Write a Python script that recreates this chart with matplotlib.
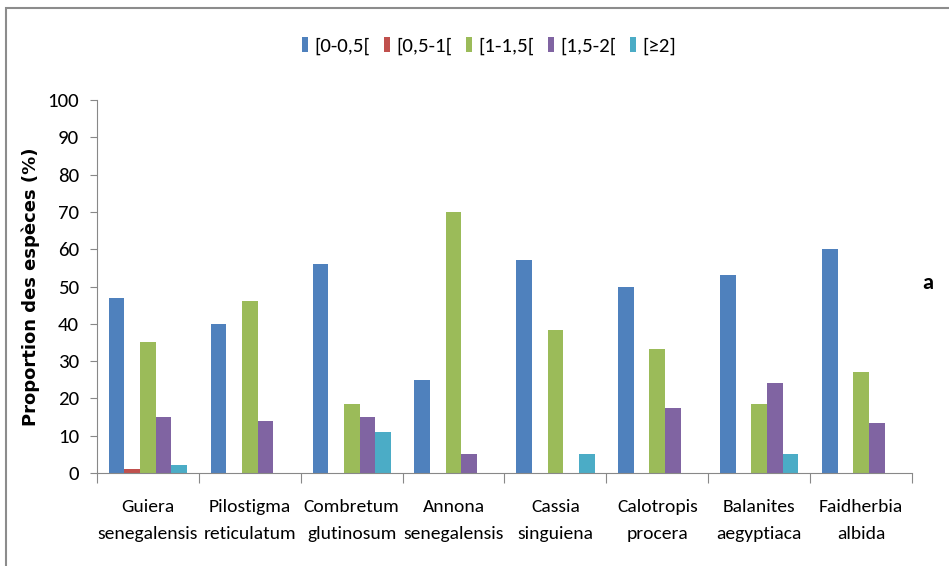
import matplotlib.pyplot as plt
import numpy as np
from matplotlib.patches import Rectangle

plt.switch_backend("Agg")
plt.rcParams["font.family"] = ["Carlito", "Archivo Narrow", "DejaVu Sans"]

species = [
    "Guiera\nsenegalensis",
    "Pilostigma\nreticulatum",
    "Combretum\nglutinosum",
    "Annona\nsenegalensis",
    "Cassia\nsinguiena",
    "Calotropis\nprocera",
    "Balanites\naegyptiaca",
    "Faidherbia\nalbida",
]
classes = ["[0-0,5[", "[0,5-1[", "[1-1,5[", "[1,5-2[", "[\u22652]"]
colors = ["#4F81BD", "#C0504D", "#9BBB59", "#8064A2", "#4BACC6"]

# one list per diameter class, values in %
v_00_05 = [47, 40, 56, 25, 57, 50, 53, 60]
v_05_1 = [1, 0, 0, 0, 0, 0, 0, 0]
v_1_15 = [35, 46, 18.4, 70, 38.3, 33.2, 18.4, 27.2]
v_15_2 = [15, 14, 15, 5.2, 0, 17.3, 24, 13.3]
v_ge2 = [2.2, 0, 11.1, 0, 5.2, 0, 5.2, 0]
series = [v_00_05, v_05_1, v_1_15, v_15_2, v_ge2]

W, H = 949, 566
fig = plt.figure(figsize=(W / 100, H / 100), dpi=100)
ax = fig.add_axes([97 / W, 1 - 473 / H, (912 - 97) / W, (473 - 100) / H])

# outer chart frame (Excel-style border)
fig.patches.append(Rectangle((6 / W, -0.1), 1.2, 1 - 8 / H + 0.1,
                             transform=fig.transFigure, fill=False,
                             edgecolor="#8c8c8c", linewidth=1.5))

x = np.arange(1, len(species) + 1)
bw = 1 / 6.5
for i, (vals, col, lab) in enumerate(zip(series, colors, classes)):
    ax.bar(x + (i - 2) * bw, vals, width=bw, color=col, label=lab,
           edgecolor="none", zorder=2)

ax.set_xlim(0.5, len(species) + 0.5)
ax.set_ylim(0, 100)
ax.set_yticks(range(0, 101, 10))
ax.tick_params(axis="y", length=5, color="#888888", labelsize=15, pad=8)

ax.set_xticks(np.arange(0.5, len(species) + 1, 1))
ax.set_xticklabels([])
ax.tick_params(axis="x", which="major", length=7, color="#888888")
ax.set_xticks(x, minor=True)
ax.set_xticklabels(species, minor=True, fontsize=14, linespacing=1.8)
ax.tick_params(axis="x", which="minor", length=0, pad=19)

for s in ("top", "right"):
    ax.spines[s].set_visible(False)
for s in ("left", "bottom"):
    ax.spines[s].set_color("#888888")

ax.set_ylabel("Proportion des esp\u00e8ces (%)", family="DejaVu Sans",
              fontweight="bold", fontsize=13, labelpad=5)

fig.legend(loc="center", bbox_to_anchor=(489 / W, 1 - 46 / H), ncol=5,
           frameon=False, fontsize=15, handlelength=0.3, handleheight=0.75,
           handletextpad=0.3, columnspacing=0.65)

fig.text(928 / W, 1 - 283 / H, "a", fontsize=16, fontweight="bold",
         ha="center", va="center")

fig.savefig("out.png", dpi=100)
